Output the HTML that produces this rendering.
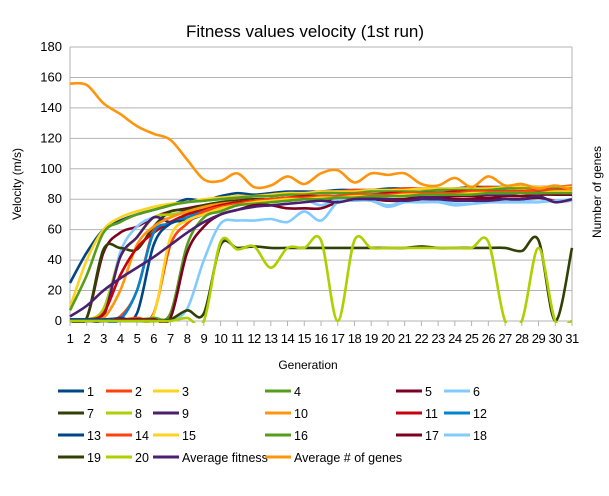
<!DOCTYPE html>
<html><head><meta charset="utf-8"><style>
body{margin:0;background:#fff;font-family:"Liberation Sans",sans-serif}
</style></head><body>
<svg id="chart" width="609" height="491" xmlns="http://www.w3.org/2000/svg" font-family="Liberation Sans, sans-serif">
<rect width="609" height="491" fill="#fff"/>
<text x="305" y="37" text-anchor="middle" font-size="17" fill="#000">Fitness values velocity (1st run)</text>
<text transform="translate(21,184) rotate(-90)" text-anchor="middle" font-size="12">Velocity (m/s)</text>
<text transform="translate(601,192) rotate(-90)" text-anchor="middle" font-size="12">Number of genes</text>
<text x="308" y="369" text-anchor="middle" font-size="12">Generation</text>
<defs><clipPath id="pc"><rect x="68" y="45" width="506" height="278"/></clipPath></defs>
<g id="grid"></g><g id="axes"></g><g id="series" clip-path="url(#pc)"></g><g id="legend"></g>
</svg>
<script>
const generations=[1,2,3,4,5,6,7,8,9,10,11,12,13,14,15,16,17,18,19,20,21,22,23,24,25,26,27,28,29,30,31];
const yTicks=[0,20,40,60,80,100,120,140,160,180];
const seriesNames=["1","2","3","4","5","6","7","8","9","10","11","12","13","14","15","16","17","18","19","20","Average fitness","Average # of genes"];
const seriesColors=["#004586","#ff420e","#ffd320","#579d1c","#7e0021","#83caff","#314004","#aecf00","#4b1f6f","#ff950e","#c5000b","#0084d1","#004586","#ff420e","#ffd320","#579d1c","#7e0021","#83caff","#314004","#aecf00","#4b1f6f","#ff950e"];
const s1=[25,45,60,66,70,73,76,80,79,82,84,83,84,85,85,85,86,86,86,87,87,87,87,87,88,88,88,88,88,88,88];
const s2=[1,1,1,3,20,60,68,72,76,78,80,82,83,84,84,85,85,86,86,86,87,87,86,87,87,88,87,88,88,88,89];
const s3=[9,40,60,68,72,75,77,78,80,81,82,82,83,84,84,85,85,85,86,86,86,87,87,87,87,87,88,88,88,88,88];
const s4=[7,30,58,65,70,73,76,78,79,80,81,82,82,83,83,84,84,84,85,85,85,85,86,86,86,86,87,87,87,87,87];
const s5=[1,2,45,58,62,68,72,74,76,77,78,79,79,80,80,79,79,80,80,80,80,81,81,82,82,81,82,82,83,83,83];
const s6=[1,1,2,45,62,68,70,72,75,78,79,80,80,80,80,76,80,80,79,75,78,80,79,77,77,78,78,79,80,79,80];
const s7=[0,2,47,48,47,62,72,73,76,78,79,80,80,81,81,82,82,82,83,83,83,84,84,84,84,85,85,85,85,85,85];
const s8=[1,1,8,42,55,68,70,71,74,76,78,79,80,80,81,81,82,82,82,83,83,83,84,84,84,84,85,85,85,85,85];
const s9=[1,1,3,42,55,68,65,70,73,75,77,78,79,79,80,80,81,81,81,82,82,82,82,83,83,83,83,84,84,84,84];
const s10=[1,1,2,20,50,62,68,72,75,77,78,79,80,81,81,82,82,83,83,83,84,84,84,85,85,85,85,86,86,86,86];
const s11=[1,1,5,30,48,58,65,70,73,76,78,79,80,81,82,82,82,83,83,84,84,84,84,85,85,85,85,85,86,86,86];
const s12=[0,0,0,1,20,58,64,68,72,75,77,78,79,80,81,81,82,82,82,83,83,83,83,84,84,84,84,85,85,85,85];
const s13=[1,1,1,2,5,50,64,66,70,74,76,78,79,80,81,81,82,82,83,83,83,84,84,84,84,85,85,85,85,86,86];
const s14=[0,0,0,1,2,5,50,64,72,75,77,79,80,81,81,82,82,83,83,83,84,84,84,84,85,85,85,85,86,86,86];
const s15=[0,0,0,1,1,4,55,66,70,74,76,78,79,80,80,81,81,82,82,82,83,83,83,83,84,84,84,84,84,85,85];
const s16=[0,0,0,1,1,2,5,50,68,72,76,77,78,79,80,80,81,81,82,82,82,83,83,83,83,84,84,84,84,84,84];
const s17=[0,0,0,1,1,1,2,45,62,70,73,76,76,74,74,74,78,80,80,79,79,80,80,80,80,80,80,80,81,79,79];
const s18=[0,0,0,0,0,0,1,8,40,64,66,66,67,65,72,66,78,79,79,76,78,78,78,76,77,78,78,78,78,79,79];
const s19=[0,0,0,0,0,0,1,7,5,50,48,49,48,48,48,48,48,48,48,48,48,49,48,48,48,48,48,46,53,0,48];
const s20=[0,0,0,0,0,0,0,2,0,52,47,49,35,48,48,53,0,53,48,48,48,48,48,48,48,52,0,0,48,0,0];
const avgFitness=[3,10,20,28,35,42,50,58,65,70,73,75,76,77,78,79,78,80,80,80,79,80,80,79,79,79,80,80,82,78,80];
const avgGenes=[156,155,143,136,128,123,119,106,93,92,97,88,89,95,90,97,99,91,97,96,97,90,89,94,88,95,89,90,87,89,86];
const allSeries=[s1,s2,s3,s4,s5,s6,s7,s8,s9,s10,s11,s12,s13,s14,s15,s16,s17,s18,s19,s20,avgFitness,avgGenes];

const NS="http://www.w3.org/2000/svg";
const X0=70,X1=572,Y0=321,Y1=47;
const xScale=g=>X0+(g-generations[0])*(X1-X0)/(generations[generations.length-1]-generations[0]);
const yScale=v=>Y0-v*(Y0-Y1)/180;
function mk(tag,attrs,parent){const e=document.createElementNS(NS,tag);for(const k in attrs)e.setAttribute(k,attrs[k]);parent.appendChild(e);return e;}
const grid=document.getElementById('grid'),axes=document.getElementById('axes'),ser=document.getElementById('series'),leg=document.getElementById('legend');
yTicks.forEach(t=>{
  const l=mk('line',{x1:X0,x2:X1,y1:yScale(t),y2:yScale(t),stroke:'#b3b3b3','stroke-width':1},grid);
  
  
  const tx=mk('text',{x:X0-8,y:yScale(t)+4,'text-anchor':'end','font-size':13},axes);
  tx.textContent=t;
  
  
});
mk('line',{x1:X0,x2:X0,y1:Y1,y2:Y0,stroke:'#b3b3b3'},grid);
mk('line',{x1:X1,x2:X1,y1:Y1,y2:Y0,stroke:'#b3b3b3'},grid);
generations.forEach(g=>{
  mk('line',{x1:xScale(g),x2:xScale(g),y1:Y0,y2:Y0+5,stroke:'#b3b3b3'},axes);
  const tx=mk('text',{x:xScale(g),y:343,'text-anchor':'middle','font-size':13,'letter-spacing':'-0.5'},axes);
  tx.textContent=g;
  
  
});
function smoothPath(vals){
  const p=vals.map((v,i)=>[xScale(generations[i]),yScale(v)]);
  let d='M'+p[0][0]+','+p[0][1];
  for(let i=0;i<p.length-1;i++){
    const p0=p[Math.max(i-1,0)],p1=p[i],p2=p[i+1],p3=p[Math.min(i+2,p.length-1)];
    const c1=[p1[0]+(p2[0]-p0[0])/6,p1[1]+(p2[1]-p0[1])/6];
    const c2=[p2[0]-(p3[0]-p1[0])/6,p2[1]-(p3[1]-p1[1])/6];
    d+=` C${c1[0]},${c1[1]} ${c2[0]},${c2[1]} ${p2[0]},${p2[1]}`;
  }
  return d;
}
allSeries.forEach((vals,i)=>{
  const path=mk('path',{d:smoothPath(vals),fill:'none',stroke:seriesColors[i],'stroke-width':2.6,'stroke-linejoin':'round'},ser);
  
  
});
const colX=[58,106,153,265,396,444],rowY=[391,413,435,457];
const legendLayout=[[0,0],[1,0],[2,0],[3,0],[4,0],[5,0],[0,1],[1,1],[2,1],[3,1],[4,1],[5,1],[0,2],[1,2],[2,2],[3,2],[4,2],[5,2],[0,3],[1,3],[2,3],[3,3]];
seriesNames.forEach((n,i)=>{
  const [c,r]=legendLayout[i];
  const g=mk('g',{},leg);
  
  
  mk('line',{x1:colX[c],x2:colX[c]+26,y1:rowY[r],y2:rowY[r],stroke:seriesColors[i],'stroke-width':3},g);
  const t=mk('text',{x:colX[c]+29,y:rowY[r]+5,'font-size':12.5},g);
  t.textContent=n;
});
</script>
</body></html>
